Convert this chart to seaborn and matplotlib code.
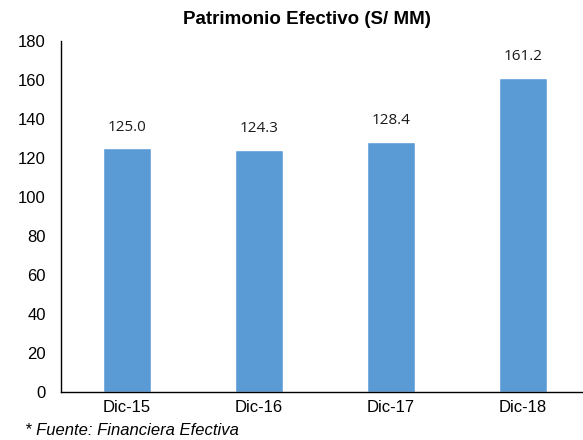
import matplotlib
matplotlib.use("Agg")
import matplotlib.pyplot as plt
import seaborn as sns
import pandas as pd

periodos = ["Dic-15", "Dic-16", "Dic-17", "Dic-18"]
patrimonio = [125.0, 124.3, 128.4, 161.2]
etiquetas = ["125.0", "124.3", "128.4", "161.2"]

sns.set_style("white")
plt.rcParams['font.family'] = ['Liberation Sans', 'DejaVu Sans']

data = pd.DataFrame({"periodo": periodos, "valor": patrimonio})

fig = plt.figure(figsize=(5.83, 4.40), dpi=100)
ax = fig.add_axes([61 / 583, 48 / 440, 528 / 583, 351 / 440])

sns.barplot(data=data, x="periodo", y="valor", color="#5B9BD5",
            saturation=1, width=0.36, ax=ax)

for i, (v, t) in enumerate(zip(patrimonio, etiquetas)):
    ax.annotate(t, (i, v), xytext=(0, 15), textcoords="offset points",
                ha="center", va="center", fontsize=11, family="Open Sans",
                color="#1a1a1a")

ax.set_xlim(-0.5, 3.5)
ax.set_ylim(0, 180)
ax.set_yticks(range(0, 181, 20))
ax.set_xlabel("")
ax.set_ylabel("")
ax.tick_params(axis="both", length=0, labelsize=12, colors="black")
ax.tick_params(axis="x", pad=6)
ax.tick_params(axis="y", pad=11)
for side in ["top", "right"]:
    ax.spines[side].set_visible(False)
for side in ["left", "bottom"]:
    ax.spines[side].set_color("black")
    ax.spines[side].set_linewidth(1.0)

fig.text(307 / 583, 1 - 20 / 440, "Patrimonio Efectivo (S/ MM)", ha="center",
         va="center", fontsize=13.5, fontweight="bold", color="black")
fig.text(25 / 583, 1 - 430 / 440, "* Fuente: Financiera Efectiva",
         ha="left", va="center", fontsize=12, style="italic", color="black")

fig.savefig("out.png", dpi=100)
